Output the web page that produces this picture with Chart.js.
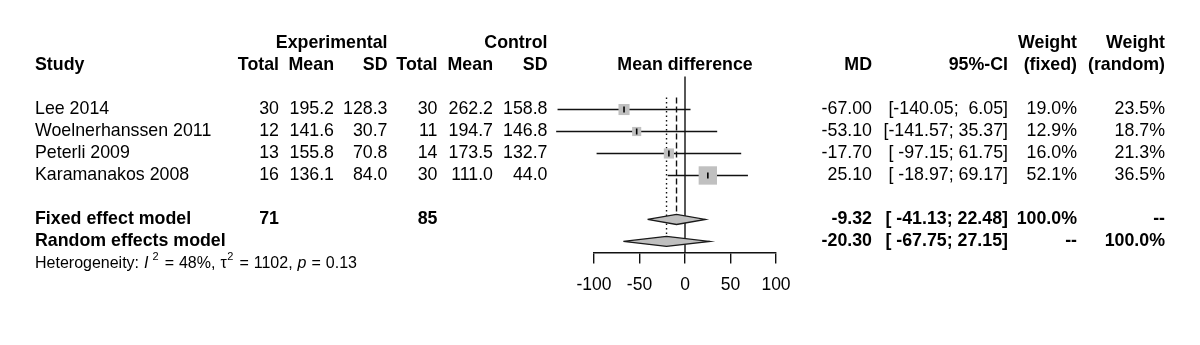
<!DOCTYPE html>
<html>
<head>
<meta charset="utf-8">
<script src="https://cdn.jsdelivr.net/npm/chart.js@4"></script>
<style>
  html, body { margin: 0; padding: 0; background: #fff; }
  canvas { display: block; }
</style>
</head>
<body>
<canvas id="forest" width="1200" height="345"></canvas>
<script>
// Study data
const studies = ['Lee 2014', 'Woelnerhanssen 2011', 'Peterli 2009', 'Karamanakos 2008'];
const expTotal = [30, 12, 13, 16];
const expMean = [195.2, 141.6, 155.8, 136.1];
const expSD = [128.3, 30.7, 70.8, 84.0];
const ctrlTotal = [30, 11, 14, 30];
const ctrlMean = [262.2, 194.7, 173.5, 111.0];
const ctrlSD = [158.8, 146.8, 132.7, 44.0];
const md = [-67.00, -53.10, -17.70, 25.10];
const ciLow = [-140.05, -141.57, -97.15, -18.97];
const ciHigh = [6.05, 35.37, 61.75, 69.17];
const weightFixed = [19.0, 12.9, 16.0, 52.1];
const weightRandom = [23.5, 18.7, 21.3, 36.5];

// Pooled estimates
const pooledNames = ['Fixed effect model', 'Random effects model'];
const pooledMD = [-9.32, -20.30];
const pooledLow = [-41.13, -67.75];
const pooledHigh = [22.48, 27.15];
const totalExp = 71;
const totalCtrl = 85;

const xTicks = [-100, -50, 0, 50, 100];

// Layout
const FONT = '"Liberation Sans", Arial, Helvetica, sans-serif';
const FS = 17.8;
const rows = { head1: 1, head2: 2, first: 4, fixed: 9, random: 10, hetero: 11 };
const studyRows = studies.map((s, i) => rows.first + i);
const pooledRows = [rows.fixed, rows.random];
const col = {
  study: 35, eTotal: 279, eMean: 334, eSD: 387.5, cTotal: 437.5, cMean: 493, cSD: 547.5,
  plotMid: 685, md: 872, ci: 1008, wFixed: 1077, wRandom: 1165
};
const diamondHalf = 0.23;

// Format CI like R does: pad both ends to a common width
const allLow = ciLow.concat(pooledLow).map(v => v.toFixed(2));
const allHigh = ciHigh.concat(pooledHigh).map(v => v.toFixed(2));
const lowW = Math.max(...allLow.map(s => s.length));
const highW = Math.max(...allHigh.map(s => s.length));
function ciText(lo, hi) {
  return '[' + lo.toFixed(2).padStart(lowW, ' ') + '; ' + hi.toFixed(2).padStart(highW, ' ') + ']';
}

function diamond(est, lo, hi, row) {
  return [
    { x: lo, y: row }, { x: est, y: row - diamondHalf }, { x: hi, y: row },
    { x: est, y: row + diamondHalf }, { x: lo, y: row }
  ];
}

const datasets = [];

// small vertical marks at each estimate
datasets.push({
  data: md.map((m, i) => ({ x: m, y: studyRows[i] })),
  pointStyle: 'line', rotation: 90, pointRadius: 3, borderColor: '#000', borderWidth: 1.6,
  showLine: false, clip: false, order: 0
});

// squares sized by fixed weight
datasets.push({
  data: md.map((m, i) => ({ x: m, y: studyRows[i] })),
  pointStyle: 'rect',
  pointRadius: ctx => 1.8 * Math.sqrt(weightFixed[ctx.dataIndex]),
  backgroundColor: '#c0c0c0', borderWidth: 0, showLine: false, clip: false, order: 1
});

// pooled diamonds
pooledMD.forEach((m, i) => {
  datasets.push({
    data: diamond(m, pooledLow[i], pooledHigh[i], pooledRows[i]),
    showLine: true, fill: 'shape', backgroundColor: '#c0c0c0', borderColor: '#1a1a1a',
    borderWidth: 1.3, pointRadius: 0, clip: false, order: 2
  });
});

// confidence interval lines
studies.forEach((s, i) => {
  datasets.push({
    data: [{ x: ciLow[i], y: studyRows[i] }, { x: ciHigh[i], y: studyRows[i] }],
    showLine: true, borderColor: '#111', borderWidth: 1.4, pointRadius: 0, clip: false, order: 3
  });
});

// reference lines: no effect, fixed (dashed), random (dotted)
datasets.push({
  data: [{ x: 0, y: 2.5 }, { x: 0, y: 10.5 }],
  showLine: true, borderColor: '#111', borderWidth: 1.4, pointRadius: 0, clip: false, order: 4
});
datasets.push({
  data: [{ x: pooledMD[0], y: 3.45 }, { x: pooledMD[0], y: rows.fixed - diamondHalf }],
  showLine: true, borderColor: '#111', borderWidth: 1.4, borderDash: [6, 3], pointRadius: 0, clip: false, order: 4
});
datasets.push({
  data: [{ x: pooledMD[1], y: 3.45 }, { x: pooledMD[1], y: rows.random - diamondHalf }],
  showLine: true, borderColor: '#111', borderWidth: 1.4, borderDash: [1.5, 3], pointRadius: 0, clip: false, order: 4
});

function txt(ctx, s, x, y, align, bold) {
  ctx.font = (bold ? 'bold ' : '') + FS + 'px ' + FONT;
  ctx.textAlign = align;
  ctx.fillText(s, x, y);
}

// heterogeneity line pieces: text, style, gap after
const hetPieces = [
  ['Heterogeneity:', '', 5], ['I', 'italic ', 4], ['2', 'sup', 6], ['=', '', 5],
  ['48%,', '', 5], ['\u03c4', '', 0.5], ['2', 'sup', 6], ['=', '', 5],
  ['1102,', '', 5], ['p', 'italic ', 5], ['=', '', 5], ['0.13', '', 0]
];

// Draw the table text around the plot
const tablePlugin = {
  id: 'forestTable',
  afterDraw(chart) {
    const ctx = chart.ctx;
    const ys = chart.scales.y;
    const py = r => ys.getPixelForValue(r);
    ctx.save();
    ctx.fillStyle = '#000';
    ctx.textBaseline = 'middle';

    // headers
    let y = py(rows.head1);
    txt(ctx, 'Experimental', col.eSD, y, 'right', true);
    txt(ctx, 'Control', col.cSD, y, 'right', true);
    txt(ctx, 'Weight', col.wFixed, y, 'right', true);
    txt(ctx, 'Weight', col.wRandom, y, 'right', true);
    y = py(rows.head2);
    txt(ctx, 'Study', col.study, y, 'left', true);
    txt(ctx, 'Total', col.eTotal, y, 'right', true);
    txt(ctx, 'Mean', col.eMean, y, 'right', true);
    txt(ctx, 'SD', col.eSD, y, 'right', true);
    txt(ctx, 'Total', col.cTotal, y, 'right', true);
    txt(ctx, 'Mean', col.cMean, y, 'right', true);
    txt(ctx, 'SD', col.cSD, y, 'right', true);
    txt(ctx, 'Mean difference', col.plotMid, y, 'center', true);
    txt(ctx, 'MD', col.md, y, 'right', true);
    txt(ctx, '95%-CI', col.ci, y, 'right', true);
    txt(ctx, '(fixed)', col.wFixed, y, 'right', true);
    txt(ctx, '(random)', col.wRandom, y, 'right', true);

    // study rows
    studies.forEach((s, i) => {
      const yy = py(studyRows[i]);
      txt(ctx, s, col.study, yy, 'left');
      txt(ctx, String(expTotal[i]), col.eTotal, yy, 'right');
      txt(ctx, expMean[i].toFixed(1), col.eMean, yy, 'right');
      txt(ctx, expSD[i].toFixed(1), col.eSD, yy, 'right');
      txt(ctx, String(ctrlTotal[i]), col.cTotal, yy, 'right');
      txt(ctx, ctrlMean[i].toFixed(1), col.cMean, yy, 'right');
      txt(ctx, ctrlSD[i].toFixed(1), col.cSD, yy, 'right');
      txt(ctx, md[i].toFixed(2), col.md, yy, 'right');
      txt(ctx, ciText(ciLow[i], ciHigh[i]), col.ci, yy, 'right');
      txt(ctx, weightFixed[i].toFixed(1) + '%', col.wFixed, yy, 'right');
      txt(ctx, weightRandom[i].toFixed(1) + '%', col.wRandom, yy, 'right');
    });

    // pooled rows
    pooledNames.forEach((name, i) => {
      const yy = py(pooledRows[i]);
      txt(ctx, name, col.study, yy, 'left', true);
      if (i === 0) {
        txt(ctx, String(totalExp), col.eTotal, yy, 'right', true);
        txt(ctx, String(totalCtrl), col.cTotal, yy, 'right', true);
      }
      txt(ctx, pooledMD[i].toFixed(2), col.md, yy, 'right', true);
      txt(ctx, ciText(pooledLow[i], pooledHigh[i]), col.ci, yy, 'right', true);
      txt(ctx, i === 0 ? '100.0%' : '--', col.wFixed, yy, 'right', true);
      txt(ctx, i === 1 ? '100.0%' : '--', col.wRandom, yy, 'right', true);
    });

    // heterogeneity line with superscripts
    y = py(rows.hetero);
    ctx.textAlign = 'left';
    let x = col.study;
    hetPieces.forEach(([s, st, gap]) => {
      if (st === 'sup') {
        ctx.font = '11px ' + FONT;
        ctx.fillText(s, x, y - 6);
      } else {
        ctx.font = st + '16px ' + FONT;
        ctx.fillText(s, x, y);
      }
      x += ctx.measureText(s).width + gap;
    });
    ctx.restore();
  }
};

new Chart(document.getElementById('forest'), {
  type: 'scatter',
  data: { datasets: datasets },
  options: {
    responsive: false,
    animation: false,
    events: [],
    layout: { padding: { left: 594, right: 424, top: 21.6, bottom: 38.6 } },
    plugins: { legend: { display: false }, tooltip: { enabled: false } },
    scales: {
      x: {
        type: 'linear', min: -100, max: 100,
        afterBuildTicks: axis => { axis.ticks = xTicks.map(v => ({ value: v })); },
        grid: { drawOnChartArea: false, drawTicks: true, tickLength: 11, color: '#111', lineWidth: 1.4 },
        border: { display: true, color: '#111', width: 1.4 },
        ticks: { color: '#000', padding: 11, maxRotation: 0, font: { family: FONT, size: 17.5 } }
      },
      y: { type: 'linear', reverse: true, min: 0, max: 10.5, display: false }
    }
  },
  plugins: [tablePlugin]
});
</script>
</body>
</html>
